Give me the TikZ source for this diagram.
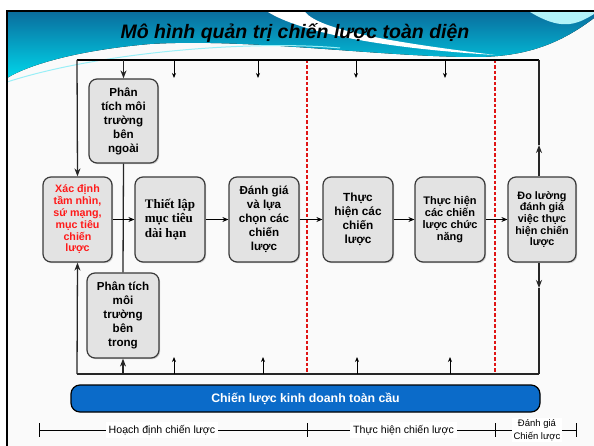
\documentclass[tikz,border=0pt]{standalone}
\usepackage{fontspec}
\setmainfont{Liberation Sans}
\newfontfamily\serifbox{Liberation Serif}
\usetikzlibrary{arrows.meta, shadows}
\definecolor{boxgray}{HTML}{E3E3E3}
\definecolor{boxline}{HTML}{3A3A3A}
\definecolor{barblue}{HTML}{0B6BC9}
\definecolor{hdrdark}{HTML}{0A6E9E}
\definecolor{hdrcyan}{HTML}{00D6EA}
\definecolor{dashred}{HTML}{E01515}
\definecolor{xdred}{HTML}{FF1A1A}

\begin{document}
\begin{tikzpicture}[
    x=1pt, y=-1pt, % pixel-like coordinates, y grows downwards
    stepbox/.style={draw=boxline, line width=1.2pt, fill=boxgray, rounded corners=8pt,
        minimum width=69pt, minimum height=85pt, inner sep=1pt, align=center,
        font=\bfseries\fontsize{11.6}{14}\selectfont,
        drop shadow={shadow xshift=1.2pt, shadow yshift=-1.2pt, opacity=0.35}},
    flow/.style={-{Stealth[length=6pt, width=5pt]}, line width=1pt},
    shortarr/.style={-{Stealth[length=5pt, width=4pt]}, line width=0.8pt},
    bigarr/.style={-{Stealth[length=8pt, width=6pt]}},
    frame/.style={line width=1.3pt, draw=black!85},
    divider/.style={dashred, dash pattern=on 3.5pt off 2pt, line width=1.3pt},
    phase/.style={fill=white, inner sep=3pt, align=center, font=\fontsize{10.6}{12}\selectfont}
]
    \useasboundingbox (0,0) rectangle (594,446);

    % --- 1. SLIDE BACKGROUND AND HEADER ---
    \fill[black!2] (7,11) rectangle (594,446);
    \fill[top color=hdrdark, bottom color=hdrcyan]
        (7,12) -- (594,12) -- (594,18) .. controls (560,44) and (525,57) .. (475,57)
        .. controls (380,57) and (250,38) .. (150,44) .. controls (80,50) and (30,64) .. (7,78) -- cycle;
    \fill[white] (268,12) .. controls (300,32) and (380,48) .. (495,55)
        .. controls (390,42) and (320,30) .. (305,12) -- cycle;
    \fill[white!70!hdrcyan] (530,12) .. controls (560,30) and (575,26) .. (594,14) -- (594,12) -- cycle;
    \draw[white!60!hdrcyan, line width=1pt] (7,82) .. controls (100,52) and (250,40) .. (340,48);
    \draw[black, line width=2pt] (7,446) -- (7,11) -- (594,11);
    \node[font=\bfseries\itshape\fontsize{19.5}{22}\selectfont] (title) at (295,33)
        {Mô hình quản trị chiến lược toàn diện};

    % --- 2. FRAME CORNERS ---
    \def\xL{77} \def\xR{539} \def\yT{60} \def\yB{374}
    \coordinate (ftl) at (\xL,\yT);
    \coordinate (ftr) at (\xR,\yT);
    \coordinate (fbl) at (\xL,\yB);
    \coordinate (fbr) at (\xR,\yB);

    % --- 3. BOXES ---
    \node[stepbox, text=xdred, font=\bfseries\fontsize{10.7}{11.8}\selectfont] (xd) at (77.5,219.5)
        {Xác định\\tầm nhìn,\\sứ mạng,\\mục tiêu\\chiến\\lược};
    \node[stepbox, minimum height=84pt] (ngoai) at (123.5,121)
        {Phân\\tích môi\\trường\\bên\\ngoài};
    \node[stepbox, minimum width=72pt] (trong) at (123,315.5)
        {Phân tích\\môi\\trường\\bên\\trong};
    \node[stepbox, minimum width=70pt, align=left, font=\serifbox\bfseries\fontsize{13}{14.5}\selectfont] (tl) at (170,219.5)
        {Thiết lập\\mục tiêu\\dài hạn};
    \node[stepbox, minimum width=70pt] (dg) at (264,219.5)
        {Đánh giá\\và lựa\\chọn các\\chiến\\lược};
    \node[stepbox, minimum width=70pt, font=\bfseries\fontsize{11.8}{14}\selectfont] (th) at (358,219.5)
        {Thực\\hiện các\\chiến\\lược};
    \node[stepbox, minimum width=70pt, font=\bfseries\fontsize{11}{12}\selectfont] (thcn) at (450,219.5)
        {Thực hiện\\các chiến\\lược chức\\năng};
    \node[stepbox, minimum width=68pt, font=\bfseries\fontsize{10.8}{11.6}\selectfont] (dl) at (542,219.5)
        {Đo lường\\đánh giá\\việc thực\\hiện chiến\\lược};

    % --- 4. FRAME LINES AND DIVIDERS ---
    \foreach \x [count=\i] in {307,495} {
        \coordinate (divT\i) at (\x,\yT);
        \coordinate (divB\i) at (\x,\yB);
        \draw[divider] (divT\i) -- (divB\i);
    }
    \draw[frame, draw=black, line width=1.6pt] (ftl) -- (ftr);
    \draw[frame] (fbl) -- (fbr);
    \draw[frame, bigarr] (ftl) -- (xd.north);
    \draw[frame, bigarr] (fbl) -- (xd.south);
    \coordinate (upTip) at (\xR,145);
    \coordinate (downTip) at (\xR,288);
    \draw[frame, bigarr] (dl.north -| ftr) -- (upTip);
    \draw[frame] (upTip) -- (ftr);
    \draw[frame, bigarr] (dl.south -| ftr) -- (downTip);
    \draw[frame] (downTip) -- (fbr);

    % short arrows from the frame
    \foreach \x [count=\i] in {174,258,356,445} {
        \coordinate (topIn\i) at (\x,\yT);
        \coordinate (topTip\i) at (\x,78);
        \draw[shortarr] (topIn\i) -- (topTip\i);
    }
    \foreach \x [count=\i] in {174,263,357,450} {
        \coordinate (botIn\i) at (\x,\yB);
        \coordinate (botTip\i) at (\x,357);
        \draw[shortarr] (botIn\i) -- (botTip\i);
    }

    % --- 5. CONNECTORS ---
    \draw[frame, bigarr] (ngoai.north |- ftl) -- (ngoai.north);
    \draw[frame] (ngoai.south) -- (trong.north);
    \draw[frame, bigarr] (trong.south |- fbl) -- (trong.south);
    \draw[flow] (xd.east) -- (tl.west);
    \draw[flow] (tl.east) -- (dg.west);
    \draw[flow] (dg.east) -- (th.west);
    \draw[flow] (th.east) -- (thcn.west);
    \draw[flow] (thcn.east) -- (dl.west);

    % --- 6. GLOBAL BAR AND PHASE LINE ---
    \node[draw=black, line width=1.2pt, fill=barblue, rounded corners=9pt,
        minimum width=469pt, minimum height=27pt, text=white,
        font=\bfseries\fontsize{12.3}{14}\selectfont] (global) at (305.5,398.5)
        {Chiến lược kinh doanh toàn cầu};

    \coordinate (p0) at (39,430);
    \coordinate (p1) at (307,430);
    \coordinate (p2) at (495,430);
    \coordinate (p3) at (576,430);
    \draw[line width=1pt] (p0) -- (p3);
    \foreach \p in {p0,p1,p2,p3}
        \draw[line width=1pt] (\p) ++(0,-7) -- ++(0,14);
    \node[phase] (hoach) at (162,430) {Hoạch định chiến lược};
    \node[phase] (thuc) at (403.5,430) {Thực hiện chiến lược};
    \node[phase, inner sep=2pt, font=\fontsize{9.5}{12.5}\selectfont] (danh) at (537,430) {Đánh giá\\Chiến lược};

\end{tikzpicture}
\end{document}
